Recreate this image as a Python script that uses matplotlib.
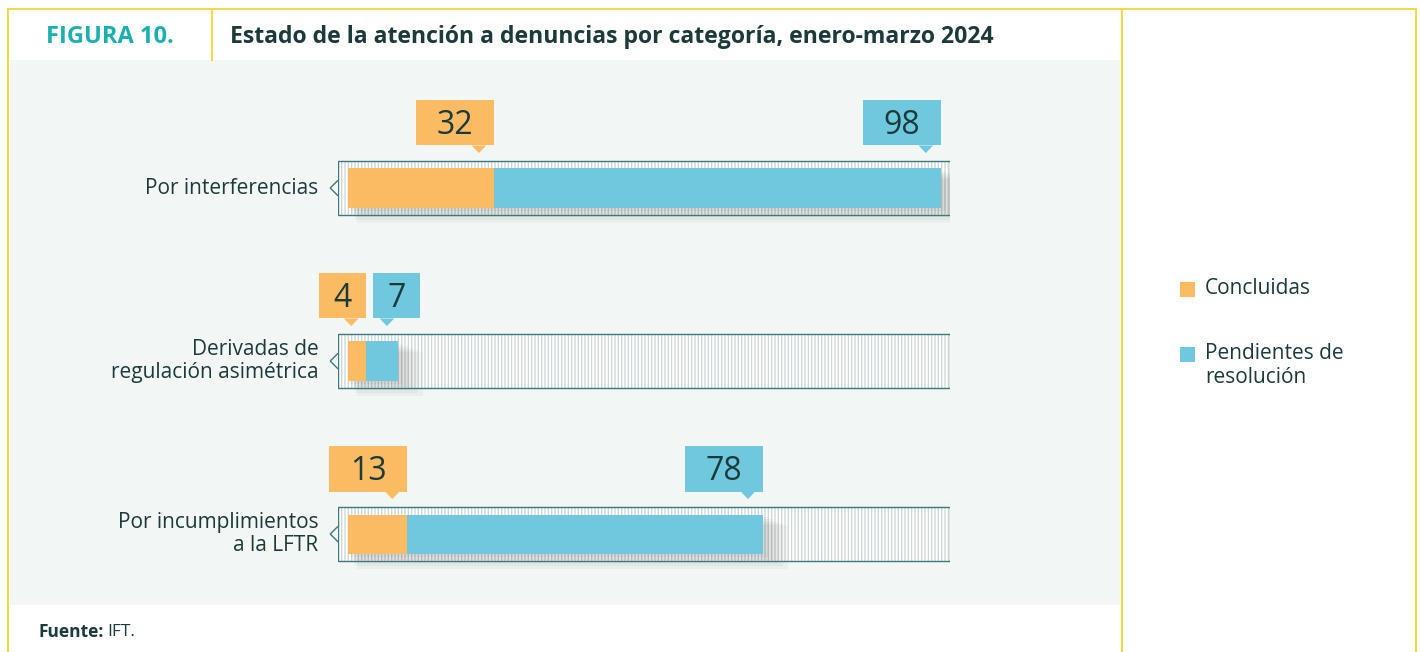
import numpy as np
import matplotlib.pyplot as plt
from matplotlib.patches import Rectangle, Polygon

plt.rcParams['font.family'] = ['Open Sans', 'DejaVu Sans']
plt.rcParams['hatch.linewidth'] = 0.9

categorias = ["Por interferencias", "Derivadas de\nregulación asimétrica", "Por incumplimientos\na la LFTR"]
concluidas = [32, 4, 13]
pendientes = [98, 7, 78]
series_nombres = ["Concluidas", "Pendientes de\nresolución"]

naranja = "#fbbb63"
azul = "#6fc8de"
texto = "#1c3a3a"
teal = "#1bb0ad"
amarillo = "#f7d433"
fondo = "#f2f7f5"
borde = "#3f7878"

W, H = 1420, 652
fig = plt.figure(figsize=(W / 100, H / 100), dpi=100)


def fx(x):
    return x / W


def fy(y):
    return 1 - y / H


# marco y fondo
fig.add_artist(Rectangle((fx(10), fy(605)), fx(1110), 545 / H, transform=fig.transFigure,
                         facecolor=fondo, edgecolor="none", zorder=0))
for (x0, y0, x1, y1) in [(8, 9, 1416, 9), (8, 9, 8, 652), (212, 9, 212, 60),
                         (1122, 9, 1122, 652), (1416, 9, 1416, 652)]:
    fig.add_artist(plt.Line2D([fx(x0), fx(x1)], [fy(y0), fy(y1)], transform=fig.transFigure,
                              color=amarillo, lw=1.3))

fig.text(fx(110), fy(37), "FIGURA 10.", ha="center", va="center", fontsize=17,
         fontweight="bold", color=teal)
fig.text(fx(230), fy(37), "Estado de la atención a denuncias por categoría, enero-marzo 2024",
         ha="left", va="center", fontsize=16.6, fontweight="bold", color=texto)
fig.text(fx(38), fy(632), "Fuente:", ha="left", va="center", fontsize=12.5, color=texto,
         fontweight="bold")
fig.text(fx(107), fy(632), "IFT.", ha="left", va="center", fontsize=12.5, color=texto)

# ejes de las barras
ax = fig.add_axes([fx(338), fy(605), fx(950 - 338), 545 / H])
ax.set_xlim(-2.2, 132)
ax.set_ylim(2.41, -0.74)
ax.axis("off")

y = np.arange(len(categorias))
track_h = 0.312
bar_h = 0.226
xmin, xmax = ax.get_xlim()

for i in y:
    # pista rayada
    ax.add_patch(Rectangle((xmin, i - track_h / 2), xmax - xmin, track_h, facecolor="white",
                           edgecolor="#cdd6d4", hatch="|" * 5, lw=0, zorder=1))
    ax.add_patch(Rectangle((xmin, i - track_h / 2), xmax - xmin, track_h, facecolor="none",
                           edgecolor=borde, lw=1.0, zorder=5))
    # punta izquierda
    ax.add_patch(Polygon([[xmin, i - 0.045], [xmin - 1.7, i], [xmin, i + 0.045]], closed=False,
                         facecolor=fondo, edgecolor=borde, lw=1.0, zorder=5, clip_on=False))
    # sombra
    total = concluidas[i] + pendientes[i]
    for k in range(1, 6):
        ax.add_patch(Rectangle((0.4 * k, i - bar_h / 2 + 0.012 * k), total + 0.7 * k,
                               bar_h + 0.006 * k, facecolor="black", alpha=0.03, lw=0,
                               zorder=2, clip_on=True))

ax.barh(y, concluidas, height=bar_h, color=naranja, zorder=3, label=series_nombres[0])
ax.barh(y, pendientes, left=concluidas, height=bar_h, color=azul, zorder=3, label=series_nombres[1])

# categorías
for i, cat in enumerate(categorias):
    ax.text(xmin - 4.3, i, cat, ha="right", va="center", fontsize=15, color=texto,
            linespacing=1.15)

# globos con valores
box_top, box_bot, tip = -0.509, -0.246, -0.202
px_unit = 4.56
for i in y:
    vals = [concluidas[i], pendientes[i]]
    ends = [concluidas[i], concluidas[i] + pendientes[i]]
    colors = [naranja, azul]
    prev_right = None
    for v, end, c in zip(vals, ends, colors):
        w = (78 if v >= 10 else 47) / px_unit
        right = end
        left = right - w
        if prev_right is not None and left < prev_right + 7 / px_unit:
            left = prev_right + 7 / px_unit
            right = left + w
        prev_right = right
        px = min(max(end - 3.3, left + 3), right - 3.3)
        ax.add_patch(Rectangle((left, i + box_bot), w, box_top - box_bot, facecolor=c, lw=0,
                               zorder=6, clip_on=False))
        ax.add_patch(Polygon([[px - 1.6, i + box_bot], [px, i + tip], [px + 1.6, i + box_bot]],
                             facecolor=c, lw=0, zorder=6, clip_on=False))
        ax.text((left + right) / 2, i + (box_top + box_bot) / 2 + 0.015, str(v), ha="center",
                va="center", fontsize=23, color=texto, zorder=7)

# leyenda
for c, yy in zip([naranja, azul], [289, 354]):
    fig.add_artist(Rectangle((fx(1180), fy(yy + 8)), fx(15), 15 / H, transform=fig.transFigure,
                             facecolor=c, lw=0))
fig.text(fx(1205), fy(289), series_nombres[0], ha="left", va="center", fontsize=15, color=texto)
fig.text(fx(1205), fy(343), series_nombres[1], ha="left", va="top", fontsize=15, color=texto,
         linespacing=1.2)

fig.savefig("out.png", dpi=100)
